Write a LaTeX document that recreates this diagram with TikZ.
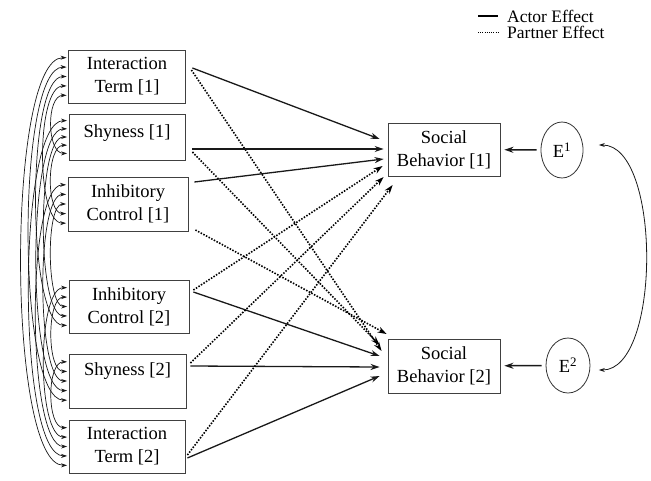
\documentclass[tikz,border=0pt]{standalone}
\usepackage{fontspec}
\setmainfont{Liberation Serif}
\usetikzlibrary{arrows.meta,calc,shapes.geometric}
\begin{document}
\begin{tikzpicture}[x=1pt,y=-1pt,
  every node/.style={font=\fontsize{18.5}{23}\selectfont},
  varbox/.style={draw=black!75,line width=0.8pt,inner sep=0pt,align=center},
  shybox/.style={draw=black!75,line width=0.8pt,inner ysep=0pt},
  errnode/.style={draw=black!80,line width=0.8pt,ellipse,inner sep=0pt},
  actor/.style={line width=1.3pt,-{Stealth[length=9pt,width=6pt]},black!90},
  partner/.style={line width=1.6pt,dash pattern=on 1.5pt off 1.5pt,-{Stealth[length=9pt,width=6pt]},black},
  cov/.style={line width=0.7pt,{Stealth[length=6pt,width=4pt]}-{Stealth[length=6pt,width=4pt]},black!90,shorten <=1.5pt,shorten >=1.5pt},
  legtext/.style={anchor=base west,inner sep=0pt,text height=12pt,text depth=2pt,font=\fontsize{17.5}{19}\selectfont}]
\useasboundingbox (0,0) rectangle (651,480);

% left boxes
\node[varbox,minimum width=117,minimum height=53] (b1) at (127,76.5) {Interaction\\Term [1]};
\node[shybox,minimum width=116,text height=23pt,text depth=23pt] (b2) at (127,137) {Shyness [1]};
\node[varbox,minimum width=120,minimum height=54] (b3) at (128,204) {Inhibitory\\Control [1]};
\node[varbox,minimum width=120,minimum height=53] (b4) at (129,306.5) {Inhibitory\\Control [2]};
\node[shybox,minimum width=117,text height=21pt,text depth=33pt] (b5) at (127.5,381) {Shyness [2]};
\node[varbox,minimum width=116,minimum height=53] (b6) at (127,446.5) {Interaction\\Term [2]};

% outcomes
\node[varbox,minimum width=112,minimum height=53] (SB1) at (444,149.5) {Social\\Behavior [1]};
\node[varbox,minimum width=112,minimum height=54] (SB2) at (444,366) {Social\\Behavior [2]};
\node[errnode,minimum width=42,minimum height=56] (E1) at (562,150) {E\textsuperscript{1}};
\node[errnode,minimum width=44,minimum height=55] (E2) at (568,365.5) {E\textsuperscript{2}};

% legend
\coordinate (la1) at (478,16); \coordinate (la2) at (498,16);
\coordinate (lp1) at (478,32); \coordinate (lp2) at (498,32);
\draw[line width=1.5pt] (la1) -- (la2);
\draw[line width=1pt,dash pattern=on 1pt off 1.2pt] (lp1) -- (lp2);
\node[legtext] (legA) at (507,22.5) {Actor Effect};
\node[legtext] (legP) at (507,38.5) {Partner Effect};

% regression paths
\draw[actor]   ($(b1.east)+(6.5,-8.5)$) -- ($(SB1.west)+(-8,-10.5)$);
\draw[partner] ($(b1.east)+(5.5,-6.5)$) -- ($(SB2.west)+(-6,-15)$);
\draw[actor]   ($(b2.east)+(7,12)$) -- ($(SB1.west)+(-4,-0.5)$);
\draw[partner] ($(b2.east)+(7,15)$) -- ($(SB2.west)+(-8,-21)$);
\draw[actor]   ($(b3.east)+(6,-22)$) -- ($(SB1.west)+(-4,9.5)$);
\draw[partner] ($(b3.east)+(7,26)$) -- ($(SB2.west)+(-1,-32)$);
\draw[partner] ($(b4.east)+(4,-16.5)$) -- ($(SB1.west)+(-5,16.5)$);
\draw[actor]   ($(b4.east)+(4,-14.5)$) -- ($(SB2.west)+(-8,-10)$);
\draw[partner] ($(b5.east)+(4,-18)$) -- ($(SB1.west)+(-4,27.5)$);
\draw[actor]   ($(b5.east)+(4,-15)$) -- ($(SB2.west)+(-8,1)$);
\draw[partner] ($(b6.east)+(2,8.5)$) -- ($(SB1.west)+(5,35.5)$);
\draw[actor]   ($(b6.east)+(2,11.5)$) -- ($(SB2.west)+(-8,10)$);

% error paths
\draw[actor,line width=1.5pt,shorten <=4pt,shorten >=4pt] (E1) -- (SB1);
\draw[actor,line width=1.5pt,shorten <=4pt,shorten >=4pt] (E2) -- (SB2);
\draw[cov,line width=0.8pt] ($(E1.east)+(14,-5)$) .. controls +(64,0) and +(64,0) .. ($(E2.east)+(7,4.5)$);

% covariances among predictors
\foreach \i in {1,...,5}{
  \pgfmathtruncatemacro\ip{\i+1}
  \foreach \j in {\ip,...,6}{
    \pgfmathsetmacro\fa{0.15+0.175*(6-\j)}
    \pgfmathsetmacro\fb{0.15+0.175*(5-\i)}
    \pgfmathsetmacro\dd{12+10*(\j-\i)}
    \draw[cov] ($(b\i.north west)!\fa!(b\i.south west)$) .. controls +(-\dd,0) and +(-\dd,0) .. ($(b\j.north west)!\fb!(b\j.south west)$);
  }
}
\end{tikzpicture}
\end{document}
